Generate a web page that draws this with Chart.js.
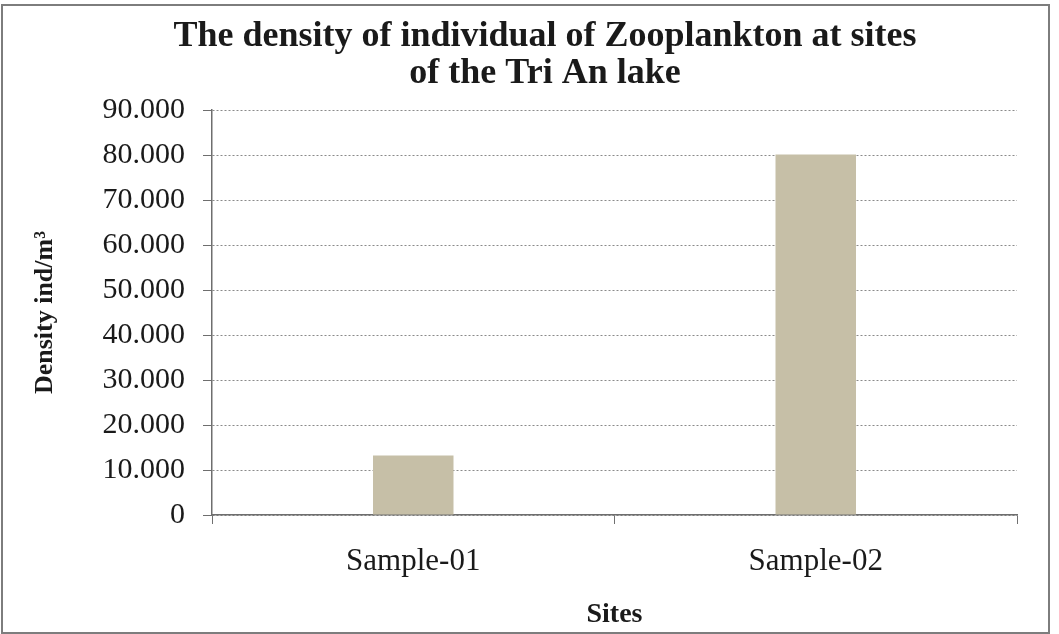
<!DOCTYPE html>
<html>
<head>
<meta charset="utf-8">
<script src="https://cdn.jsdelivr.net/npm/chart.js@4"></script>
<style>
  html, body { margin: 0; padding: 0; background: #ffffff; }
  #wrap { position: relative; width: 1059px; height: 634px; overflow: hidden; }
  #frame { position: absolute; left: 1px; top: 4px; width: 1045px; height: 626px; border: 2px solid #7d7d7d; pointer-events: none; }
</style>
</head>
<body>
<div id="wrap">
  <canvas id="c" width="1059" height="634"></canvas>
  <div id="frame"></div>
</div>
<script>
const titleLines = ["The density of individual of Zooplankton at sites", "of the Tri An lake"];
const categories = ["Sample-01", "Sample-02"];
const densityValues = [13200, 80100];
const yTickMax = 90000;
const yTickStep = 10000;
const yAxisTitle = "Density ind/m\u00B3";
const xAxisTitle = "Sites";

function fmtThousands(v) {
  return String(v).replace(/\B(?=(\d{3})+(?!\d))/g, ".");
}

const serif = "'Liberation Serif', 'Times New Roman', serif";

new Chart(document.getElementById("c"), {
  type: "bar",
  data: {
    labels: categories,
    datasets: [{
      data: densityValues,
      backgroundColor: "#c6bfa7",
      borderWidth: 0,
      categoryPercentage: 1.0,
      barPercentage: 0.2
    }]
  },
  options: {
    responsive: false,
    animation: false,
    layout: { padding: { left: 73, right: 42, top: 0, bottom: 0 } },
    plugins: {
      legend: { display: false },
      tooltip: { enabled: false },
      title: {
        display: true,
        text: titleLines,
        color: "#1a1a1a",
        font: { family: serif, size: 36, weight: "bold", lineHeight: 1.015 },
        padding: { top: 18.7, bottom: 18.3 }
      }
    },
    scales: {
      x: {
        grid: {
          display: true,
          offset: true,
          drawOnChartArea: false,
          drawTicks: true,
          tickLength: 9,
          color: "#707070",
          tickColor: "#707070"
        },
        border: { display: true, color: "#6e6e6e", width: 1.5 },
        ticks: {
          color: "#1a1a1a",
          padding: 19.4,
          font: { family: serif, size: 31 }
        },
        title: {
          display: true,
          text: xAxisTitle,
          color: "#1a1a1a",
          font: { family: serif, size: 28, weight: "bold" },
          padding: { top: 0, bottom: 2 }
        },
        afterFit: function (scale) { scale.height = 119; }
      },
      y: {
        min: 0,
        max: yTickMax,
        grid: {
          display: true,
          color: "#8a8a8a",
          lineWidth: 1,
          drawTicks: true,
          tickLength: 9,
          tickColor: "#6e6e6e",
          tickBorderDash: []
        },
        border: { display: true, color: "#6e6e6e", width: 1.5, dash: [2, 2] },
        ticks: {
          stepSize: yTickStep,
          color: "#1a1a1a",
          padding: 18,
          font: { family: serif, size: 30 },
          callback: function (v) { return fmtThousands(v); }
        },
        title: {
          display: true,
          text: yAxisTitle,
          color: "#1a1a1a",
          font: { family: serif, size: 26, weight: "bold" },
          padding: { top: -43.6, bottom: 0 }
        },
        afterFit: function (scale) { scale.width = 139; }
      }
    }
  }
});
</script>
</body>
</html>
